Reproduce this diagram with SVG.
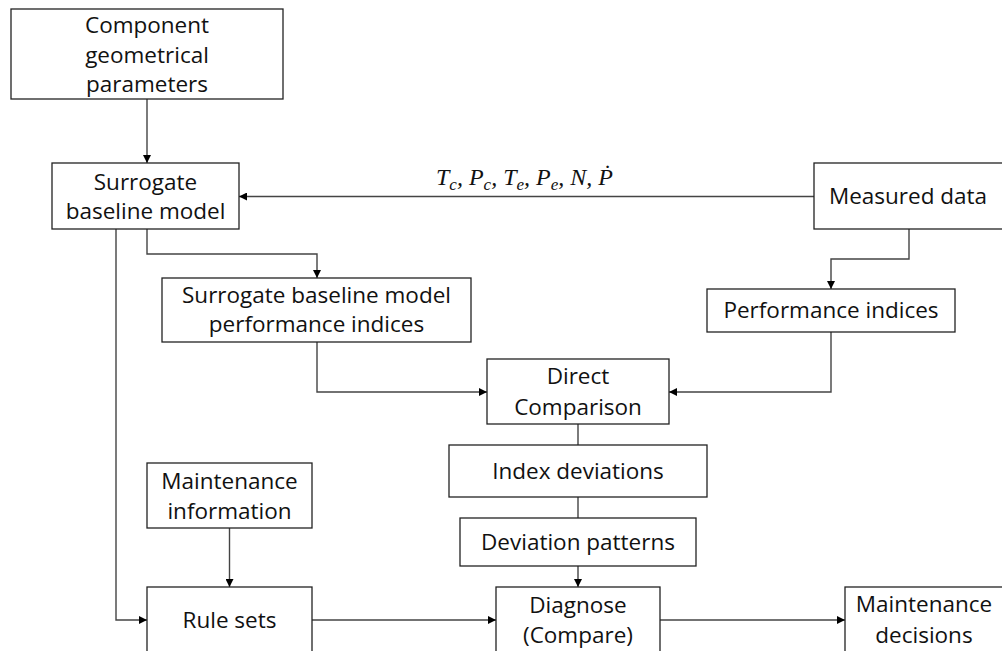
<svg xmlns="http://www.w3.org/2000/svg" width="1002" height="651" viewBox="0 0 1002 651">
  <defs>
    <marker id="arrow" viewBox="0 0 10 10" refX="10" refY="5" markerWidth="8" markerHeight="8" markerUnits="userSpaceOnUse" orient="auto">
      <path d="M0,0 L10,5 L0,10 z" fill="#000"/>
    </marker>
    <style>
      .box rect { fill: #fff; stroke: #222; stroke-width: 1.3; }
      .box text { font-family: "Open Sans", "Noto Sans", sans-serif; font-size: 22.5px; fill: #111; text-anchor: middle; }
      .conn path { fill: none; stroke: #444; stroke-width: 1.4; }
      .conn .arr { marker-end: url(#arrow); }
      .label { font-family: "Liberation Serif", "DejaVu Serif", serif; font-style: italic; font-size: 24px; fill: #111; }
    </style>
  </defs>

  <rect width="1002" height="651" fill="#fff"/>

  <!-- connectors -->
  <g id="connectors" class="conn">
    <path class="arr" d="M147,99 V163"/>
    <path class="arr" d="M814,196.5 H239"/>
    <path class="arr" d="M147,229 V254 H317 V278"/>
    <path class="arr" d="M116,229 V620 H147"/>
    <path class="arr" d="M909,229 V259 H831 V289"/>
    <path class="arr" d="M317,342 V392 H487"/>
    <path class="arr" d="M831,332 V392 H669"/>
    <path d="M578,424 V445"/>
    <path d="M578,497 V518"/>
    <path class="arr" d="M578,566 V587"/>
    <path class="arr" d="M229.5,528 V587"/>
    <path class="arr" d="M312,620 H496"/>
    <path class="arr" d="M660,620 H845"/>
  </g>

  <!-- measured variables fed to the surrogate model -->
  <text class="label" x="436" y="185">T<tspan font-size="17" dy="5">c</tspan><tspan dy="-5">, P</tspan><tspan font-size="17" dy="5">c</tspan><tspan dy="-5">, T</tspan><tspan font-size="17" dy="5">e</tspan><tspan dy="-5">, P</tspan><tspan font-size="17" dy="5">e</tspan><tspan dy="-5">, N, Ṗ</tspan></text>

  <g id="component-geometry" class="box">
    <rect x="11" y="9" width="272" height="90"/>
    <text x="147" y="33">Component</text>
    <text x="147" y="63">geometrical</text>
    <text x="147" y="92">parameters</text>
  </g>

  <g id="surrogate-model" class="box">
    <rect x="52" y="163" width="187" height="66"/>
    <text x="145.5" y="190">Surrogate</text>
    <text x="145.5" y="219">baseline model</text>
  </g>

  <g id="measured-data" class="box">
    <rect x="814" y="163" width="190" height="66"/>
    <text x="908" y="204">Measured data</text>
  </g>

  <g id="surrogate-indices" class="box">
    <rect x="162" y="278" width="309" height="64"/>
    <text x="316.5" y="303">Surrogate baseline model</text>
    <text x="316.5" y="332">performance indices</text>
  </g>

  <g id="performance-indices" class="box">
    <rect x="707" y="289" width="248" height="43"/>
    <text x="831" y="318">Performance indices</text>
  </g>

  <g id="direct-comparison" class="box">
    <rect x="487" y="359" width="182" height="65"/>
    <text x="578" y="384">Direct</text>
    <text x="578" y="415">Comparison</text>
  </g>

  <g id="index-deviations" class="box">
    <rect x="449" y="445" width="258" height="52"/>
    <text x="578" y="479">Index deviations</text>
  </g>

  <g id="deviation-patterns" class="box">
    <rect x="460" y="518" width="236" height="48"/>
    <text x="578" y="550">Deviation patterns</text>
  </g>

  <g id="maintenance-information" class="box">
    <rect x="147" y="463" width="165" height="65"/>
    <text x="229.5" y="489">Maintenance</text>
    <text x="229.5" y="519">information</text>
  </g>

  <g id="rule-sets" class="box">
    <rect x="147" y="587" width="165" height="80"/>
    <text x="229.5" y="628">Rule sets</text>
  </g>

  <g id="diagnose" class="box">
    <rect x="496" y="587" width="164" height="80"/>
    <text x="578" y="613">Diagnose</text>
    <text x="578" y="643">(Compare)</text>
  </g>

  <g id="maintenance-decisions" class="box">
    <rect x="845" y="587" width="160" height="80"/>
    <text x="924" y="612">Maintenance</text>
    <text x="924" y="643">decisions</text>
  </g>
</svg>
